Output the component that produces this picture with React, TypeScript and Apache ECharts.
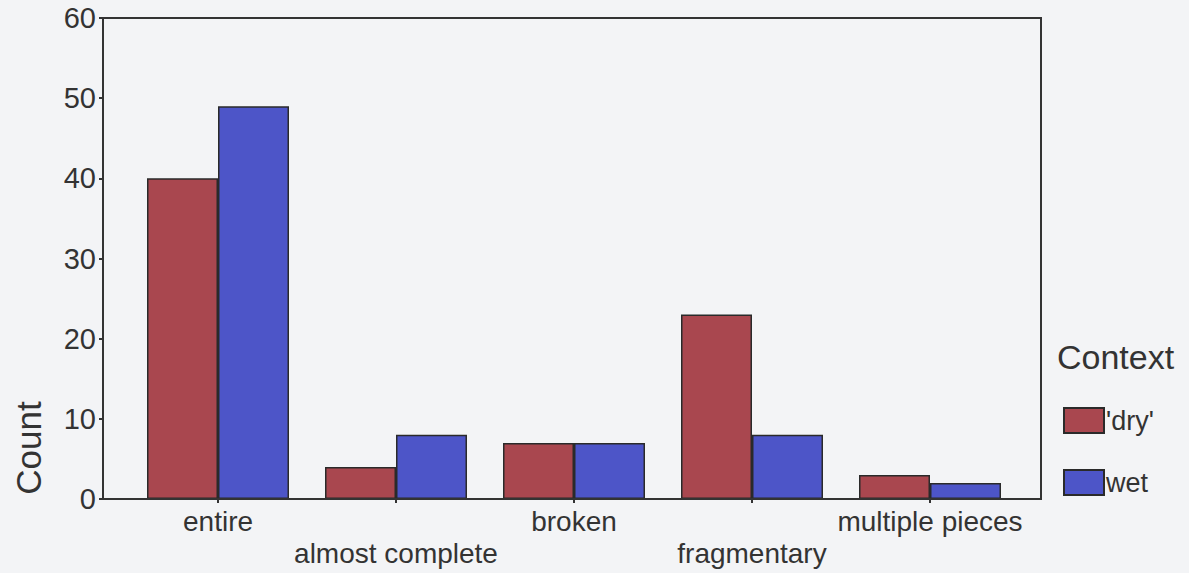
import React, { useEffect, useRef } from "react";
import * as echarts from "echarts";

const categories = ["entire", "almost complete", "broken", "fragmentary", "multiple pieces"];
const dryValues = [40, 4, 7, 23, 3];
const wetValues = [49, 8, 7, 8, 2];
const seriesNames = ["'dry'", "wet"];
const yTicks = { min: 0, max: 60, interval: 10 };

export default function App() {
  const ref = useRef<HTMLDivElement>(null);
  useEffect(() => {
    if (!ref.current) return;
    const chart = echarts.init(ref.current, null, { renderer: "svg" });
    const font = "'Liberation Sans', Arial, sans-serif";
    chart.setOption({
      animation: false,
      backgroundColor: "#f3f4f6",
      grid: { left: 129, right: 170, top: 18, bottom: 74 },
      xAxis: {
        type: "category",
        data: categories,
        axisLine: { show: false },
        axisTick: { show: true, alignWithLabel: true, length: 4, lineStyle: { color: "#333", width: 2 } },
        axisLabel: {
          interval: 0,
          fontSize: 28,
          fontFamily: font,
          color: "#333",
          margin: 6,
          lineHeight: 32,
          formatter: (v: string, i: number) => (i % 2 ? "\n" + v : v),
        },
      },
      yAxis: {
        type: "value",
        min: yTicks.min,
        max: yTicks.max,
        interval: yTicks.interval,
        offset: 26,
        splitLine: { show: false },
        axisLine: { show: true, lineStyle: { color: "#333", width: 2 } },
        axisTick: { show: true, length: 4, lineStyle: { color: "#333", width: 2 } },
        axisLabel: { fontSize: 29, fontFamily: font, color: "#333", margin: 7 },
      },
      legend: {
        orient: "vertical",
        left: 1063,
        top: 407,
        padding: 0,
        itemWidth: 40,
        itemHeight: 25,
        itemGap: 35,
        icon: "rect",
        textStyle: { fontSize: 27, fontFamily: font, color: "#333", padding: [0, 0, 0, -3] },
        data: seriesNames,
      },
      graphic: [
        {
          type: "rect",
          shape: { x: 103, y: 18, width: 938, height: 481 },
          style: { fill: "none", stroke: "#333", lineWidth: 2 },
          z: 100,
          silent: true,
        },
        {
          type: "text",
          x: 1057,
          y: 357,
          style: { text: "Context", fontSize: 34, fontFamily: font, fill: "#333", textVerticalAlign: "middle" },
        },
        {
          type: "text",
          x: 28,
          y: 448,
          rotation: Math.PI / 2,
          style: {
            text: "Count",
            fontSize: 35,
            fontFamily: font,
            fill: "#333",
            textAlign: "center",
            textVerticalAlign: "middle",
          },
        },
      ],
      series: [
        {
          name: seriesNames[0],
          type: "bar",
          data: dryValues,
          barWidth: 71,
          barGap: "0%",
          itemStyle: { color: "#a9474f", borderColor: "#2a2a2a", borderWidth: 1.5 },
        },
        {
          name: seriesNames[1],
          type: "bar",
          data: wetValues,
          barWidth: 71,
          barGap: "0%",
          itemStyle: { color: "#4d55c8", borderColor: "#2a2a2a", borderWidth: 1.5 },
        },
      ],
    });
    return () => chart.dispose();
  }, []);
  return <div ref={ref} style={{ position: "absolute", left: 0, top: 0, width: 1189, height: 573 }} />;
}
